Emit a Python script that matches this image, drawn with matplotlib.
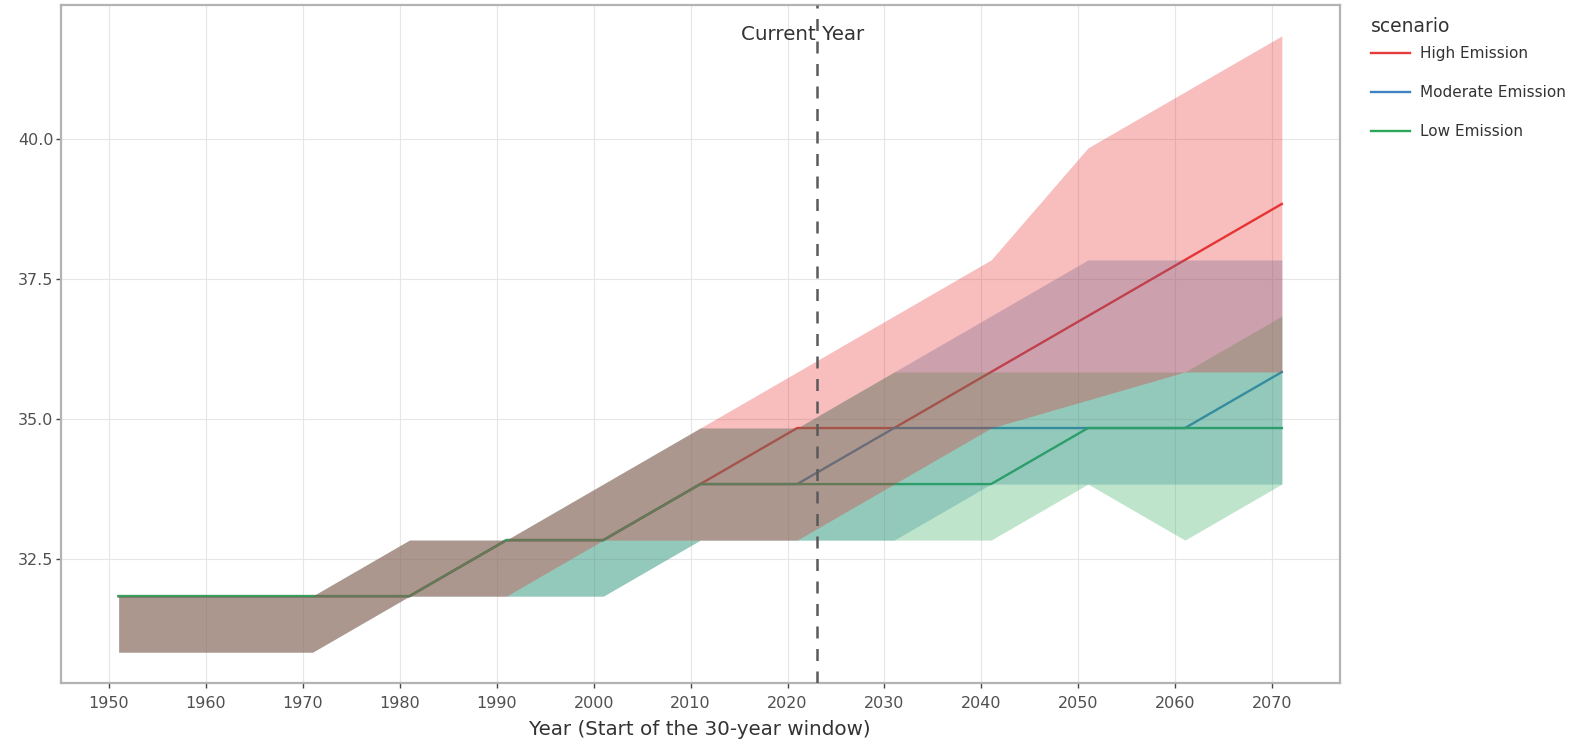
"""Heat index ranges by emission scenario (30-year windows)."""

import matplotlib

matplotlib.use("Agg")
import matplotlib.pyplot as plt
from matplotlib.lines import Line2D

plt.rcParams["font.family"] = "DejaVu Sans"

# window start years
years = [1951, 1961, 1971, 1981, 1991, 2001, 2011, 2021, 2031, 2041, 2051, 2061, 2071]

high_median = [31.84, 31.84, 31.84, 31.84, 32.84, 32.84, 33.84, 34.84, 34.84, 35.84, 36.84, 37.84, 38.84]
high_lower = [30.84, 30.84, 30.84, 31.84, 31.84, 32.84, 32.84, 32.84, 33.84, 34.84, 35.34, 35.84, 35.84]
high_upper = [31.84, 31.84, 31.84, 32.84, 32.84, 33.84, 34.84, 35.84, 36.84, 37.84, 39.84, 40.84, 41.84]

mod_median = [31.84, 31.84, 31.84, 31.84, 32.84, 32.84, 33.84, 33.84, 34.84, 34.84, 34.84, 34.84, 35.84]
mod_lower = [30.84, 30.84, 30.84, 31.84, 31.84, 31.84, 32.84, 32.84, 32.84, 33.84, 33.84, 33.84, 33.84]
mod_upper = [31.84, 31.84, 31.84, 32.84, 32.84, 33.84, 34.84, 34.84, 35.84, 36.84, 37.84, 37.84, 37.84]

low_median = [31.84, 31.84, 31.84, 31.84, 32.84, 32.84, 33.84, 33.84, 33.84, 33.84, 34.84, 34.84, 34.84]
low_lower = [30.84, 30.84, 30.84, 31.84, 31.84, 31.84, 32.84, 32.84, 32.84, 32.84, 33.84, 32.84, 33.84]
low_upper = [31.84, 31.84, 31.84, 32.84, 32.84, 33.84, 34.84, 34.84, 35.84, 35.84, 35.84, 35.84, 36.84]

current_year = 2023

scenarios = {
    "High Emission": (high_median, high_lower, high_upper, "#e63b3b", (0.91, 0.15, 0.15)),
    "Moderate Emission": (mod_median, mod_lower, mod_upper, "#3f84c0", (0.20, 0.47, 0.71)),
    "Low Emission": (low_median, low_lower, low_upper, "#2ca65a", (0.16, 0.67, 0.33)),
}

fig = plt.figure(figsize=(15.93, 7.47), dpi=100)
ax = fig.add_axes([0.038, 0.0857, 0.8032, 0.9076])

# lines sit under the translucent bands, like the original
for name in ["High Emission", "Moderate Emission", "Low Emission"]:
    med, lo, hi, col, fcol = scenarios[name]
    ax.plot(years, med, color=col, lw=1.7, zorder=2, label=name)

for z, name in enumerate(["Moderate Emission", "Low Emission", "High Emission"]):
    med, lo, hi, col, fcol = scenarios[name]
    ax.fill_between(years, lo, hi, color=fcol, alpha=0.3, lw=0, zorder=3 + z)

ax.axvline(current_year, color="#5a5a5a", lw=1.8, dashes=(4.8, 4.2), zorder=7)
ax.text(current_year - 1.4, 41.86, "Current Year", ha="center", va="center",
        fontsize=14.3, color="#333333", zorder=8)

ax.set_xlim(1945, 2077)
ax.set_ylim(30.29, 42.39)
ax.set_xticks(range(1950, 2071, 10))
ax.set_yticks([32.5, 35.0, 37.5, 40.0])
ax.set_yticklabels(["32.5", "35.0", "37.5", "40.0"])

ax.grid(True, color="#e6e6e6", lw=0.8)
ax.set_axisbelow(True)
for sp in ax.spines.values():
    sp.set_color("#b3b3b3")
    sp.set_linewidth(1.6)
ax.tick_params(axis="both", length=3.6, width=1, color="#444444",
               labelsize=11.5, labelcolor="#505050")
ax.tick_params(axis="x", pad=6)
ax.tick_params(axis="y", pad=1.5)

ax.set_xlabel("Year (Start of the 30-year window)", fontsize=14.3, color="#333333", labelpad=6)

# legend title drawn on its own so the gap to the first entry stays tight
ax.text(1.024, 0.9676, "scenario", transform=ax.transAxes, ha="left", va="center",
        fontsize=13.5, color="#333333")
handles = [Line2D([], [], color=scenarios[n][3], lw=1.7) for n in scenarios]
leg = ax.legend(handles, list(scenarios.keys()), loc="upper left",
                bbox_to_anchor=(1.024, 0.9395), frameon=False, fontsize=11,
                labelspacing=1.58, handlelength=2.6, handletextpad=0.6,
                borderpad=0, borderaxespad=0)
for t in leg.get_texts():
    t.set_color("#333333")

plt.savefig("out.png", dpi=100)
plt.close()
